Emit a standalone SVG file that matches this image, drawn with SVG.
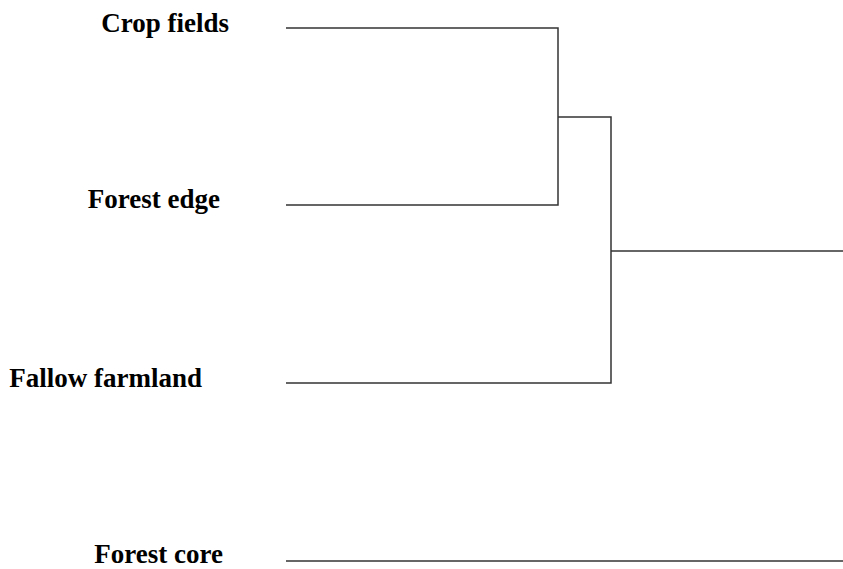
<svg xmlns="http://www.w3.org/2000/svg" width="843" height="569" viewBox="0 0 843 569">
<style>
.lbl{font-family:"Liberation Serif","Times New Roman",serif;font-weight:bold;font-size:27px;fill:#000;text-anchor:end}
.ln{stroke:#333;stroke-width:1.5;fill:none}
</style>
<rect width="843" height="569" fill="#fff"/>
<g id="node-crop"><text class="lbl" x="229" y="32">Crop fields</text></g>
<g id="node-edge"><text class="lbl" x="220" y="208">Forest edge</text></g>
<g id="node-fallow"><text class="lbl" x="202" y="387">Fallow farmland</text></g>
<g id="node-core"><text class="lbl" x="223" y="563">Forest core</text></g>
<g id="connectors">
<path class="ln" d="M286 28H558V205H286"/>
<path class="ln" d="M558 117H611V383H286"/>
<path class="ln" d="M611 251H843"/>
<path class="ln" d="M286 561H843"/>
</g>
</svg>
